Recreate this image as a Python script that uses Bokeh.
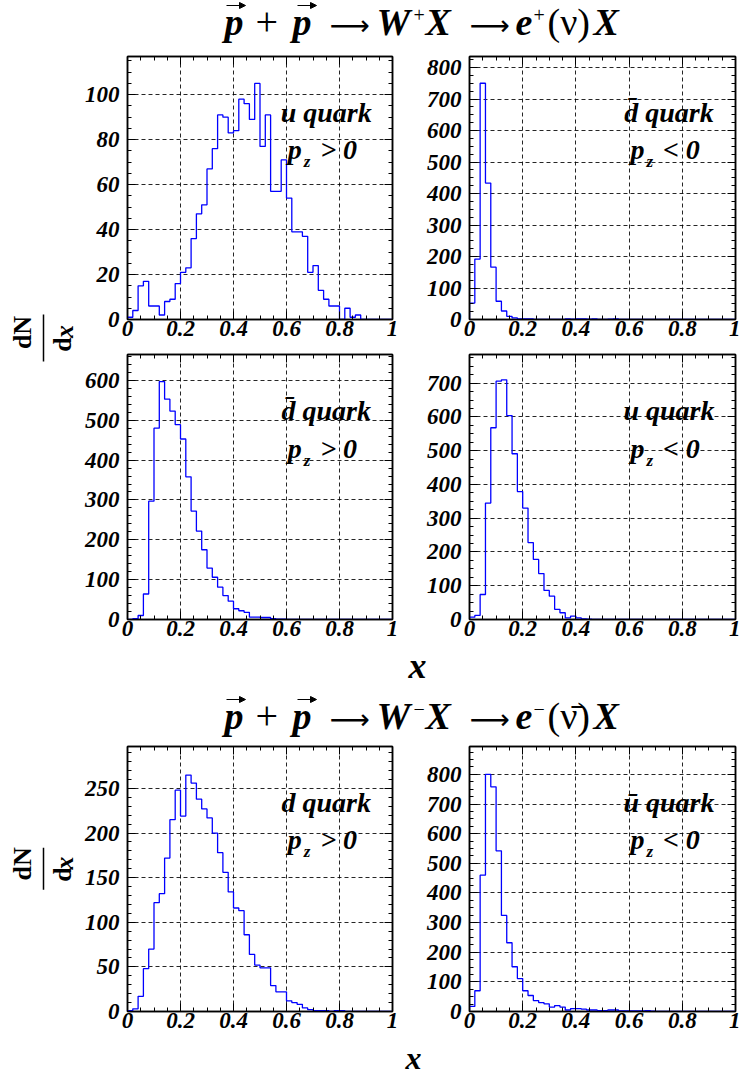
import numpy as np
from bokeh.plotting import figure
from bokeh.layouts import row, column
from bokeh.models import (Range1d, FixedTicker, LinearAxis, CustomJSTickFormatter,
                          CustomLabelingPolicy, Arrow, NormalHead)
from bokeh.embed import file_html
from bokeh.resources import INLINE
from bokeh.core.properties import value

FONT = "Liberation Serif"
ARROW_FONT = "DejaVu Sans"

# ---------------- data ----------------
bin_edges = np.linspace(0.0, 1.0, 51)   # 50 bins in x

u_pz_pos = [1, 4, 15, 17, 6, 6, 2, 8, 9, 16,
            21, 23, 36, 47, 51, 67, 76, 91, 90, 83,
            84, 98, 96, 89, 105, 77, 91, 57, 57, 71,
            54, 39, 39, 37, 21, 24, 13, 9, 6, 6,
            0, 5, 1, 2, 0, 0, 0, 0, 0, 0]
dbar_pz_neg = [52, 192, 750, 433, 166, 58, 27, 10, 5, 2,
               2, 2, 0, 0, 0, 0, 0, 0, 2, 1,
               2, 2, 1, 2, 0, 0, 1, 2, 0, 0,
               0, 0, 0, 0, 0, 0, 0, 0, 0, 0,
               0, 0, 0, 0, 0, 0, 0, 0, 0, 0]
dbar_pz_pos = [0, 2, 10, 64, 297, 480, 597, 553, 523, 489,
               453, 358, 272, 222, 175, 129, 106, 81, 60, 46,
               27, 22, 18, 6, 6, 5, 5, 2, 1, 1,
               0, 0, 0, 0, 0, 0, 0, 0, 0, 0,
               0, 0, 0, 0, 0, 0, 0, 0, 0, 0]
u_pz_neg = [7, 12, 74, 345, 568, 706, 710, 604, 491, 379,
            330, 228, 178, 136, 86, 69, 30, 20, 5, 10,
            5, 2, 1, 0, 0, 0, 0, 0, 0, 0,
            0, 0, 0, 0, 0, 0, 0, 0, 0, 0,
            0, 0, 0, 0, 0, 0, 0, 0, 0, 0]
d_pz_pos = [1, 3, 17, 48, 70, 122, 132, 172, 215, 248,
            219, 265, 256, 238, 227, 217, 200, 178, 156, 134,
            116, 113, 86, 64, 52, 49, 49, 29, 22, 22,
            12, 10, 8, 4, 2, 1, 1, 1, 0, 1,
            1, 0, 0, 0, 0, 0, 0, 0, 0, 0]
ubar_pz_neg = [17, 70, 460, 800, 758, 542, 324, 232, 151, 111,
               70, 54, 37, 30, 26, 15, 20, 15, 5, 10,
               10, 8, 5, 5, 3, 3, 5, 5, 2, 2,
               2, 2, 2, 3, 1, 0, 0, 0, 0, 0,
               0, 0, 0, 0, 0, 0, 0, 0, 0, 0]

x_ticks = [0, 0.2, 0.4, 0.6, 0.8, 1]
x_minor = [round(0.05 * i, 2) for i in range(21)]

y_ticks_1 = [0, 20, 40, 60, 80, 100]
y_ticks_2 = [0, 100, 200, 300, 400, 500, 600, 700, 800]
y_ticks_3 = [0, 100, 200, 300, 400, 500, 600]
y_ticks_4 = [0, 100, 200, 300, 400, 500, 600, 700]
y_ticks_5 = [0, 50, 100, 150, 200, 250]
y_ticks_6 = [0, 100, 200, 300, 400, 500, 600, 700, 800]

y_max = [117, 835, 665, 785, 297, 894]
y_minor_step = [5, 25, 20, 25, 10, 25]

quark_labels = ["u quark", "d\u0304 quark", "d\u0304 quark", "u quark", "d quark", "u\u0304 quark"]
sign_labels = ["> 0", "< 0", "> 0", "< 0", "> 0", "< 0"]

SHIFT = 0.32   # baseline compensation (fraction of font size)


# ---------------- helpers ----------------
def style_axis(ax, hidden=False):
    ax.axis_line_color = "black"
    ax.axis_line_width = 1.5
    ax.major_tick_in = 8
    ax.major_tick_out = 0
    ax.minor_tick_in = 4
    ax.minor_tick_out = 0
    ax.major_tick_line_color = "black"
    ax.minor_tick_line_color = "black"
    ax.major_tick_line_width = 1
    ax.minor_tick_line_width = 1
    ax.major_label_text_font = FONT
    ax.major_label_text_font_style = "bold italic"
    ax.major_label_text_color = "black"
    ax.major_label_text_font_size = "23px"
    if hidden:
        ax.major_label_text_font_size = "1px"
        ax.major_label_standoff = 0
        ax.major_label_policy = CustomLabelingPolicy(code="return [];")


def hist_panel(counts, ymax, yticks, ystep, quark, sign, left, height, top, bottom):
    w = 330
    frame_h = height - top - bottom
    p = figure(width=w, height=height, x_range=Range1d(0, 1), y_range=Range1d(0, ymax),
               output_backend="svg", toolbar_location=None,
               min_border_left=47 if left else 59, min_border_right=18 if left else 5,
               min_border_top=top, min_border_bottom=bottom,
               background_fill_color="white", border_fill_color="white")
    p.outline_line_color = "black"
    p.outline_line_width = 1.5

    xt = FixedTicker(ticks=x_ticks, minor_ticks=x_minor)
    yt = FixedTicker(ticks=yticks, minor_ticks=[float(v) for v in np.arange(0, ymax, ystep)])

    xax = p.xaxis[0]
    yax = p.yaxis[0]
    xax.ticker = xt
    xax.formatter = CustomJSTickFormatter(code="return String(tick);")
    yax.ticker = yt
    style_axis(xax)
    style_axis(yax)
    xax.major_label_standoff = 1
    yax.major_label_standoff = 8

    top_ax = LinearAxis(ticker=xt)
    right_ax = LinearAxis(ticker=yt)
    style_axis(top_ax, hidden=True)
    style_axis(right_ax, hidden=True)
    p.add_layout(top_ax, "above")
    p.add_layout(right_ax, "right")

    for g, t in ((p.xgrid[0], xt), (p.ygrid[0], yt)):
        g.ticker = t
        g.grid_line_color = "black"
        g.grid_line_dash = "4 3"
        g.grid_line_width = 1
        g.grid_line_alpha = 0.85

    xs = [0.0] + [float(e) for e in bin_edges]
    ys = [0] + list(counts) + [counts[-1]]
    p.step(xs, ys, mode="after", line_color="#0000ff", line_width=1.3)

    def yy(px_from_top, size):
        return ymax * (1.0 - (px_from_top - SHIFT * size) / frame_h)

    common = dict(text_font=value(FONT), text_color="black", text_baseline="alphabetic",
                  text_font_style="bold italic")
    p.text(x=[0.75], y=[yy(65, 28)], text=[quark], text_font_size="28px",
           text_align="center", **common)
    p.text(x=[0.605], y=[yy(103, 28)], text=["p"], text_font_size="28px",
           text_align="left", **common)
    p.text(x=[0.665], y=[yy(111, 17)], text=["z"], text_font_size="17px",
           text_align="left", **common)
    p.text(x=[0.727], y=[yy(103, 28)], text=[sign], text_font_size="28px",
           text_align="left", **common)
    return p


def text_fig(w, h):
    f = figure(width=w, height=h, x_range=Range1d(0, w), y_range=Range1d(0, h),
               output_backend="svg", toolbar_location=None, min_border=0,
               x_axis_location=None, y_axis_location=None,
               background_fill_color="white", border_fill_color="white")
    f.outline_line_color = None
    f.xgrid.visible = False
    f.ygrid.visible = False
    return f


def put(f, txt, x, ytop, size, style="bold italic", align="left", font=FONT):
    h = f.height
    f.text(x=[x], y=[h - (ytop - SHIFT * size)], text=[txt], text_font=value(font),
           text_font_size=f"{size}px", text_font_style=style, text_align=align,
           text_baseline="alphabetic", text_color="black")


def put_rot(f, txt, xc, yc, size, style="bold"):
    h = f.height
    f.text(x=[xc], y=[h - yc], text=[txt], text_font=value(FONT), text_font_size=f"{size}px",
           text_font_style=style, text_align="center", text_baseline="middle",
           angle=np.pi / 2, text_color="black")


def vec_arrow(f, x0, x1, ytop):
    h = f.height
    f.add_layout(Arrow(end=NormalHead(size=6, fill_color="black", line_color="black", line_width=1),
                       x_start=x0, y_start=h - ytop, x_end=x1, y_end=h - ytop,
                       line_color="black", line_width=1.2))


def reaction(f, B, sign, nu):
    put(f, "p", 224, B, 38)
    vec_arrow(f, 226, 245, B - 29)
    put(f, "+", 255, B, 40, "normal")
    put(f, "p", 292, B, 38)
    vec_arrow(f, 297, 316, B - 29)
    put(f, "\u27f6", 329, B, 28, "normal", font=ARROW_FONT)
    put(f, "W", 376, B, 38)
    put(f, sign, 413, B - 13, 20, "normal")
    put(f, "X", 425, B, 38)
    put(f, "\u27f6", 469, B, 28, "normal", font=ARROW_FONT)
    put(f, "e", 515, B, 38)
    put(f, sign, 533, B - 13, 20, "normal")
    put(f, "(" + nu + ")", 547, B, 38, "normal")
    put(f, "X", 593, B, 38)


def dndx(f, c):
    h = f.height
    put_rot(f, "dN", 22, c - 5, 26, "bold")
    f.segment(x0=[43], y0=[h - (c - 23)], x1=[43], y1=[h - (c + 24)],
              line_color="black", line_width=1.5)
    put_rot(f, "d", 62, c + 7, 26, "bold")
    put_rot(f, "x", 64, c - 6, 26, "bold italic")


# ---------------- build ----------------
title1 = text_fig(740, 52)
reaction(title1, 34, "+", "\u03bd")

labelA = text_fig(80, 594)
dndx(labelA, 285)

p1 = hist_panel(u_pz_pos, y_max[0], y_ticks_1, y_minor_step[0], quark_labels[0], sign_labels[0], True, 296, 2, 29)
p2 = hist_panel(dbar_pz_neg, y_max[1], y_ticks_2, y_minor_step[1], quark_labels[1], sign_labels[1], False, 296, 2, 29)
p3 = hist_panel(dbar_pz_pos, y_max[2], y_ticks_3, y_minor_step[2], quark_labels[2], sign_labels[2], True, 298, 6, 27)
p4 = hist_panel(u_pz_neg, y_max[3], y_ticks_4, y_minor_step[3], quark_labels[3], sign_labels[3], False, 298, 6, 27)

mid = text_fig(740, 96)
put(mid, "x", 417, 31, 36, "bold italic", "center")
reaction(mid, 82, "\u2212", "\u03bd\u0304")

labelB = text_fig(80, 296)
dndx(labelB, 136)

p5 = hist_panel(d_pz_pos, y_max[4], y_ticks_5, y_minor_step[4], quark_labels[4], sign_labels[4], True, 296, 2, 27)
p6 = hist_panel(ubar_pz_neg, y_max[5], y_ticks_6, y_minor_step[5], quark_labels[5], sign_labels[5], False, 296, 2, 27)

bottom = text_fig(740, 39)
put(bottom, "x", 413, 30, 32, "bold italic", "center")

layout = column(
    title1,
    row(labelA, column(row(p1, p2), row(p3, p4))),
    mid,
    row(labelB, p5, p6),
    bottom,
)

open("out.html", "w").write(file_html(layout, INLINE))
